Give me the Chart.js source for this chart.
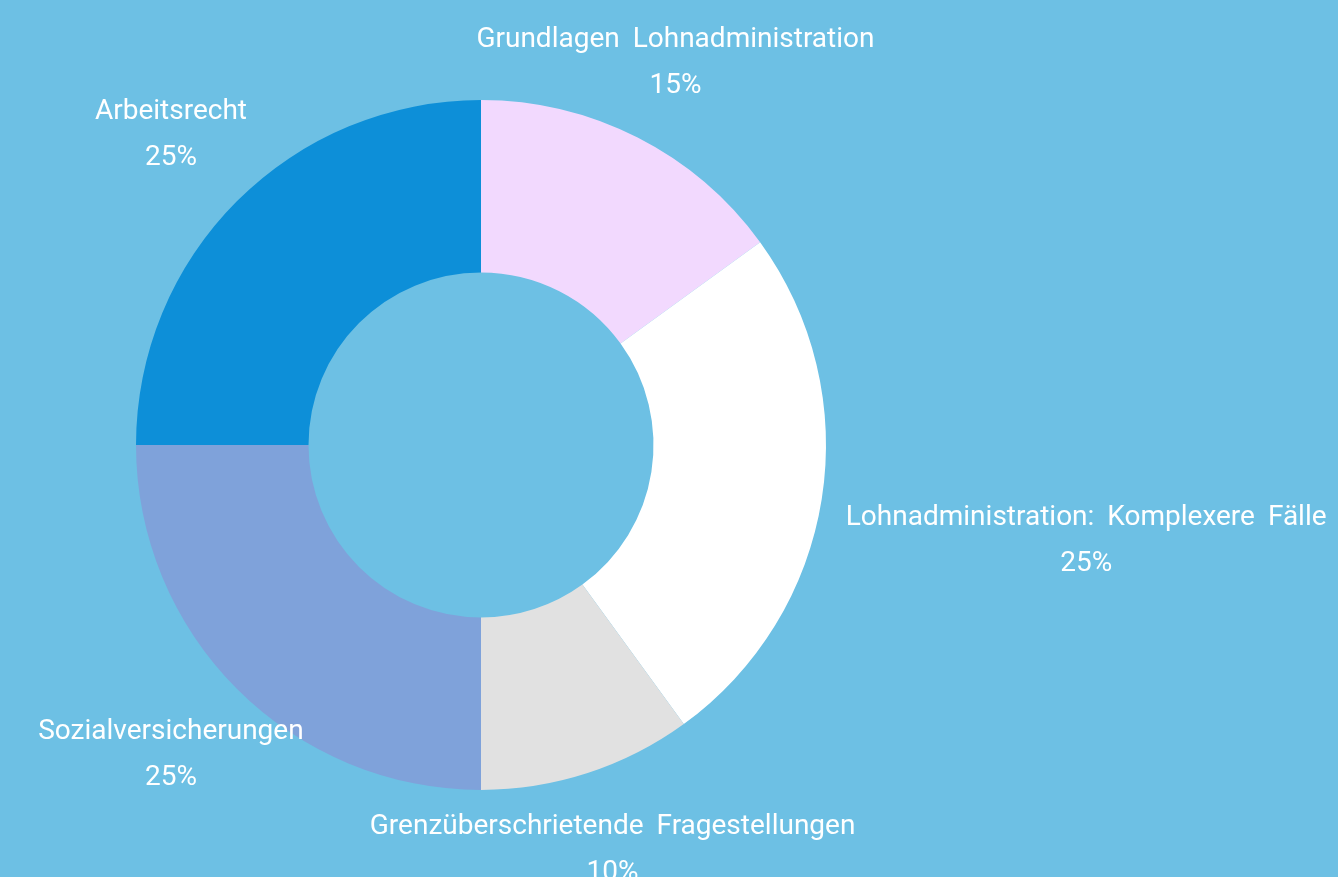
<!DOCTYPE html>
<html>
<head>
<meta charset="utf-8">
<script src="https://cdn.jsdelivr.net/npm/chart.js@4/dist/chart.umd.min.js"></script>
<style>
  html, body { margin: 0; padding: 0; background: #6dc0e4; }
  #wrap { width: 1338px; height: 877px; }
</style>
</head>
<body>
<div id="wrap"><canvas id="kursChart"></canvas></div>
<script>
const labels = [
    'Grundlagen Lohnadministration',
    'Lohnadministration: Komplexere Fälle',
    'Grenzüberschrietende Fragestellungen',
    'Sozialversicherungen',
    'Arbeitsrecht'
];
const shares = [15, 25, 10, 25, 25];
const colors = ['#f2d9fe', '#ffffff', '#e1e1e1', '#7fa2da', '#0d8fd8'];

// labels outside the ring, on the middle ray of each slice
const outsideLabels = {
    id: 'outsideLabels',
    afterDatasetsDraw(chart) {
        const ctx = chart.ctx;
        const meta = chart.getDatasetMeta(0);
        const lineH = 46;
        const gap = 44;
        ctx.save();
        ctx.font = '28px Roboto';
        ctx.fillStyle = '#ffffff';
        ctx.textAlign = 'center';
        ctx.textBaseline = 'middle';
        if ('wordSpacing' in ctx) ctx.wordSpacing = '6px';
        meta.data.forEach((arc, i) => {
            const p = arc.getProps(['x', 'y', 'startAngle', 'endAngle', 'outerRadius'], true);
            const mid = (p.startAngle + p.endAngle) / 2;
            const cos = Math.cos(mid), sin = Math.sin(mid);
            const lines = [labels[i], shares[i] + '%'];
            const w = Math.max(...lines.map(l => ctx.measureText(l).width));
            const hw = w / 2, hh = 35;
            const edge = Math.min(
                Math.abs(cos) > 1e-6 ? hw / Math.abs(cos) : Infinity,
                Math.abs(sin) > 1e-6 ? hh / Math.abs(sin) : Infinity
            );
            const d = p.outerRadius + gap + edge;
            const lx = p.x + cos * d;
            const ly = p.y + sin * d;
            ctx.fillText(lines[0], lx, ly - lineH / 2);
            ctx.fillText(lines[1], lx, ly + lineH / 2);
        });
        ctx.restore();
    }
};

new Chart(document.getElementById('kursChart'), {
    type: 'doughnut',
    data: {
        labels: labels,
        datasets: [{
            data: shares,
            backgroundColor: colors,
            borderWidth: 0,
            hoverOffset: 0
        }]
    },
    options: {
        responsive: true,
        maintainAspectRatio: false,
        animation: false,
        cutout: '50%',
        layout: { padding: { left: 136, right: 512, top: 100, bottom: 87 } },
        plugins: {
            legend: { display: false },
            tooltip: { enabled: false }
        }
    },
    plugins: [outsideLabels]
});
</script>
</body>
</html>
